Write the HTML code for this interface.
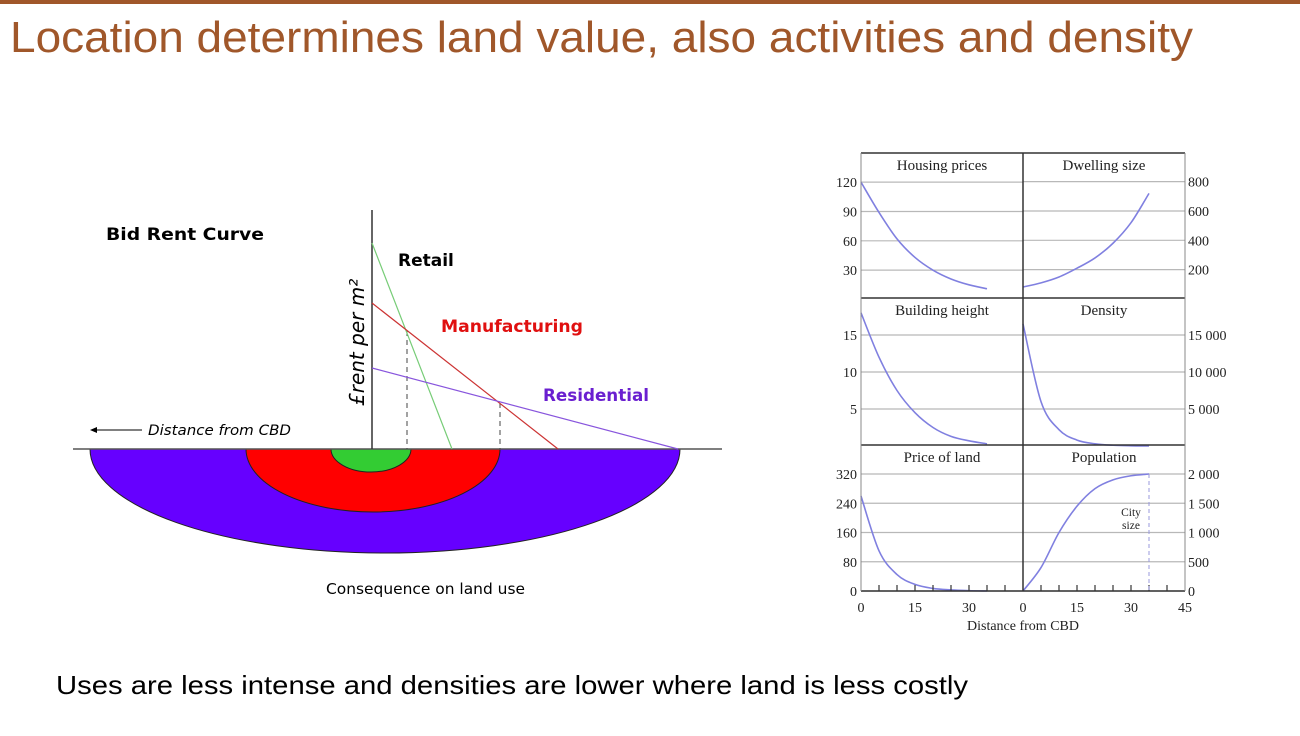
<!DOCTYPE html>
<html><head><meta charset="utf-8"><style>
body{margin:0;background:#fff;width:1300px;height:731px;overflow:hidden;font-family:"Liberation Sans",sans-serif}
</style></head><body>
<svg id="s" width="1300" height="731" viewBox="0 0 1300 731" xmlns="http://www.w3.org/2000/svg">
<rect x="0" y="0" width="1300" height="4" fill="#a0572a"/>
<text x="10" y="52" font-size="44" fill="#a0572a" textLength="1183" lengthAdjust="spacingAndGlyphs">Location determines land value, also activities and density</text>

<g font-family="DejaVu Sans, sans-serif">
<text x="106" y="240" font-size="17" font-weight="bold" fill="#000" textLength="158" lengthAdjust="spacingAndGlyphs">Bid Rent Curve</text>
<path d="M90 449 A295 104 0 0 0 680 449 Z" fill="#6600ff" stroke="#222" stroke-width="1"/>
<path d="M246 449 A127 63 0 0 0 500 449 Z" fill="#ff0000" stroke="#222" stroke-width="1"/>
<path d="M331 449 A40 23 0 0 0 411 449 Z" fill="#33cc33" stroke="#222" stroke-width="1"/>
<line x1="73" y1="449" x2="722" y2="449" stroke="#555" stroke-width="1.5"/>
<line x1="372" y1="210" x2="372" y2="449" stroke="#333" stroke-width="1.5"/>
<line x1="407" y1="331" x2="407" y2="449" stroke="#444" stroke-dasharray="5,4"/>
<line x1="500" y1="403" x2="500" y2="449" stroke="#444" stroke-dasharray="5,4"/>
<line x1="372" y1="243" x2="452" y2="449" stroke="#77cc77" stroke-width="1.2"/>
<line x1="372" y1="303" x2="558" y2="449" stroke="#cc3333" stroke-width="1.2"/>
<line x1="372" y1="368" x2="678" y2="449" stroke="#8855dd" stroke-width="1.2"/>
<text x="398" y="266" font-size="17" font-weight="bold" fill="#000">Retail</text>
<text x="441" y="332" font-size="17" font-weight="bold" fill="#e01010" textLength="142" lengthAdjust="spacingAndGlyphs">Manufacturing</text>
<text x="543" y="401" font-size="17" font-weight="bold" fill="#6a1fd0" textLength="106" lengthAdjust="spacingAndGlyphs">Residential</text>
<text transform="translate(364,406) rotate(-90)" font-size="20" font-style="italic" fill="#000">£rent per m²</text>
<line x1="92" y1="430" x2="142" y2="430" stroke="#000"/>
<path d="M90 430 L97 427 L97 433 Z" fill="#000"/>
<text x="148" y="435" font-size="14.5" font-style="italic" fill="#000" textLength="143" lengthAdjust="spacingAndGlyphs">Distance from CBD</text>
<text x="326" y="594" font-size="15" fill="#000" textLength="199" lengthAdjust="spacingAndGlyphs">Consequence on land use</text>
</g>

<g id="panels"></g>

<text x="56" y="694" font-size="26" fill="#000" textLength="912" lengthAdjust="spacingAndGlyphs">Uses are less intense and densities are lower where land is less costly</text>
</svg>
<script>
const distances=[0,5,10,15,20,25,30,35];
const housingPrices=[120,89,62,43,30,21,15,11];
const dwellingSize=[82,110,150,210,280,380,520,720];
const buildingHeight=[18,12,7.5,4.5,2.5,1.3,0.7,0.3];
const density=[16500,6000,2200,800,300,100,30,10];
const priceOfLand=[260,110,45,18,7,3,1,0];
const population=[0,400,1000,1450,1750,1900,1970,2000];
const housingTicks=[30,60,90,120];
const dwellingTicks=[200,400,600,800];
const heightTicks=[5,10,15];
const densityTicks=[5000,10000,15000];
const landTicks=[0,80,160,240,320];
const popTicks=[0,500,1000,1500,2000];
const xTicks=[0,15,30];
const citySize=35;

const NS="http://www.w3.org/2000/svg";
const G=document.getElementById('panels');
function mk(t,a){const e=document.createElementNS(NS,t);for(const k in a)e.setAttribute(k,a[k]);G.appendChild(e);return e;}
const L=861,M=1023,R=1185,rows=[153,298,445,591];
const ppx=3.6;
function xs(side,d){return (side?M:L)+d*ppx;}
const panels=[
 {name:'housing-prices',title:'Housing prices',side:0,row:0,zero:299.5,k:0.978,ticks:housingTicks,data:housingPrices,fmt:v=>v},
 {name:'dwelling-size',title:'Dwelling size',side:1,row:0,zero:299,k:0.1467,ticks:dwellingTicks,data:dwellingSize,fmt:v=>v},
 {name:'building-height',title:'Building height',side:0,row:1,zero:446,k:7.4,ticks:heightTicks,data:buildingHeight,fmt:v=>v},
 {name:'density',title:'Density',side:1,row:1,zero:446,k:0.0074,ticks:densityTicks,data:density,fmt:v=>v.toLocaleString('en').replace(',',' ')},
 {name:'price-of-land',title:'Price of land',side:0,row:2,zero:591,k:0.3656,ticks:landTicks,data:priceOfLand,fmt:v=>v},
 {name:'population',title:'Population',side:1,row:2,zero:591,k:0.0585,ticks:popTicks,data:population,fmt:v=>v.toLocaleString('en').replace(',',' ')}
];
panels.forEach(p=>{
  const x0=p.side?M:L,x1=p.side?R:M;
  const ys=v=>p.zero-v*p.k;
  p.ticks.forEach(t=>{
    const y=ys(t);
    const gl=mk('line',{x1:x0,x2:x1,y1:y,y2:y,stroke:'#b8b8b8','stroke-width':1.2});
    
    
    const tx=mk('text',{x:p.side?R+3:L-4,y:y+5,'font-size':14,'font-family':'Liberation Serif,serif','text-anchor':p.side?'start':'end',fill:'#222'});
    tx.textContent=p.fmt(t);
    
    
  });
  const tt=mk('text',{x:(x0+x1)/2,y:rows[p.row]+17,'font-size':15,'font-family':'Liberation Serif,serif','text-anchor':'middle',fill:'#222'});
  tt.textContent=p.title;
  
  
  const pts=distances.map((d,i)=>[xs(p.side,d),ys(p.data[i])]);
  let dstr='M'+pts[0][0]+' '+pts[0][1];
  for(let i=0;i<pts.length-1;i++){
    const p0=pts[i-1]||pts[i],p1=pts[i],p2=pts[i+1],p3=pts[i+2]||p2;
    const c1=[p1[0]+(p2[0]-p0[0])/6,p1[1]+(p2[1]-p0[1])/6],c2=[p2[0]-(p3[0]-p1[0])/6,p2[1]-(p3[1]-p1[1])/6];
    dstr+=` C${c1[0]} ${c1[1]} ${c2[0]} ${c2[1]} ${p2[0]} ${p2[1]}`;
  }
  const c=mk('path',{d:dstr,fill:'none',stroke:'#8080e0','stroke-width':1.6});
  
  
});
[[L,rows[0],R,rows[0]],[L,rows[1],R,rows[1]],[L,rows[2],R,rows[2]],[L,rows[3],R,rows[3]],[L,rows[0],L,rows[3]],[M,rows[0],M,rows[3]],[R,rows[0],R,rows[3]]].forEach((a,i)=>{
  const l=mk('line',{x1:a[0],y1:a[1],x2:a[2],y2:a[3],stroke:i===4||i===6?'#888':'#333','stroke-width':i===4||i===6?1:1.5});
  
  
});
[0,1].forEach(side=>{
  for(let d=5;d<45;d+=5){
    const x=xs(side,d);
    const t=mk('line',{x1:x,x2:x,y1:591,y2:585,stroke:'#333','stroke-width':1.2});
    
    
  }
  xTicks.forEach(v=>{
    const tx=mk('text',{x:xs(side,v),y:612,'font-size':14,'font-family':'Liberation Serif,serif','text-anchor':'middle',fill:'#222'});
    tx.textContent=v;
    
    
  });
});
const t45=mk('text',{x:R,y:612,'font-size':14,'font-family':'Liberation Serif,serif','text-anchor':'middle',fill:'#222'});
t45.textContent='45';


const xl=mk('text',{x:1023,y:630,'font-size':14,'font-family':'Liberation Serif,serif','text-anchor':'middle',fill:'#222'});
xl.textContent='Distance from CBD';


const cx=xs(1,citySize);
const cl=mk('line',{x1:cx,x2:cx,y1:474,y2:591,stroke:'#9999dd','stroke-dasharray':'4,3'});


const c1=mk('text',{x:1131,y:516,'font-size':11.5,'font-family':'Liberation Serif,serif','text-anchor':'middle',fill:'#222'});
c1.textContent='City';


const c2=mk('text',{x:1131,y:529,'font-size':11.5,'font-family':'Liberation Serif,serif','text-anchor':'middle',fill:'#222'});
c2.textContent='size';


</script>
</body></html>
